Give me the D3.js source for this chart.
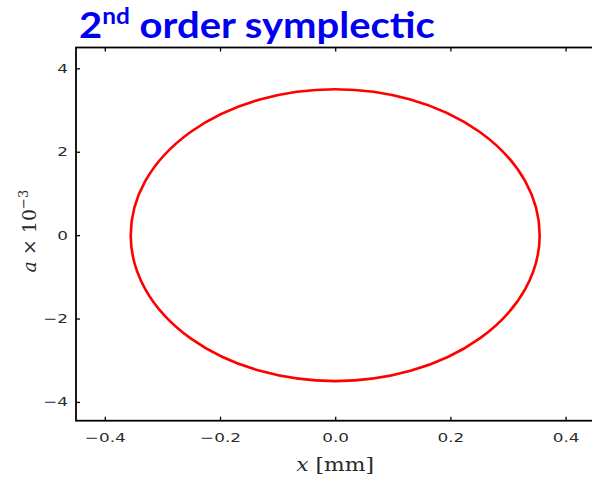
<!DOCTYPE html>
<html>
<head>
<meta charset="utf-8">
<script src="https://cdn.jsdelivr.net/npm/d3@7/dist/d3.min.js"></script>
<style>
  html, body { margin: 0; padding: 0; background: #fff; }
  svg { display: block; }
</style>
</head>
<body>
<svg id="chart" width="592" height="478"></svg>
<script>
// Phase-space orbit: centre and semi-axes (x in mm, a in units of 1e-3)
const orbitCentre = [0.0, 0.0];
const orbitSemiAxes = [0.355, 3.5];

const xDomain = [-0.45, 0.45];
const yDomain = [-4.45, 4.5];
const xTicks = [-0.4, -0.2, 0.0, 0.2, 0.4];
const yTicks = [-4, -2, 0, 2, 4];

const svg = d3.select("#chart");

const x = d3.scaleLinear().domain(xDomain).range([76, 594.4]);
const y = d3.scaleLinear().domain(yDomain).range([420.7, 47.5]);

const fmtX = d => d3.format(".1f")(d).replace("-", "\u2212");
const fmtY = d => d3.format("d")(d).replace("-", "\u2212");

// Tick labels are drawn slightly wide (horizontal stretch)
const stretch = 1.35;

// Axes frame
svg.append("rect")
  .attr("x", x(xDomain[0])).attr("y", y(yDomain[1]))
  .attr("width", x(xDomain[1]) - x(xDomain[0]))
  .attr("height", y(yDomain[0]) - y(yDomain[1]))
  .attr("fill", "none").attr("stroke", "#000").attr("stroke-width", 1.8);

const tickStyle = g => {
  g.select(".domain").remove();
  g.selectAll(".tick line").attr("stroke", "#000").attr("stroke-width", 1.3);
  g.selectAll(".tick text")
    .attr("fill", "#2a2a2a")
    .attr("font-family", "DejaVu Sans, sans-serif")
    .attr("font-size", 12.5);
};

// Bottom axis, ticks pointing inward
const gx = svg.append("g")
  .attr("transform", `translate(0,${y(yDomain[0])})`)
  .call(d3.axisBottom(x).tickValues(xTicks).tickFormat(fmtX).tickSizeInner(-4).tickSizeOuter(0).tickPadding(12))
  .call(tickStyle);
gx.selectAll(".tick text").each(function () {
  const t = d3.select(this);
  const yy = +t.attr("y");
  t.attr("y", null).attr("transform", `translate(0,${yy}) scale(${stretch},1)`);
});

// Top axis, ticks only
svg.append("g")
  .attr("transform", `translate(0,${y(yDomain[1])})`)
  .call(d3.axisTop(x).tickValues(xTicks).tickFormat("").tickSizeInner(-4).tickSizeOuter(0))
  .call(tickStyle);

// Left axis
const gy = svg.append("g")
  .attr("transform", `translate(${x(xDomain[0])},0)`)
  .call(d3.axisLeft(y).tickValues(yTicks).tickFormat(fmtY).tickSizeInner(-4).tickSizeOuter(0).tickPadding(8))
  .call(tickStyle);
gy.selectAll(".tick text").each(function () {
  const t = d3.select(this);
  const xx = +t.attr("x");
  t.attr("x", null).attr("transform", `translate(${xx},0) scale(${stretch},1)`);
});

// Orbit
svg.append("ellipse")
  .attr("cx", x(orbitCentre[0]))
  .attr("cy", y(orbitCentre[1]))
  .attr("rx", x(orbitCentre[0] + orbitSemiAxes[0]) - x(orbitCentre[0]))
  .attr("ry", y(orbitCentre[1]) - y(orbitCentre[1] + orbitSemiAxes[1]))
  .attr("fill", "none")
  .attr("stroke", "#ff0000")
  .attr("stroke-width", 2.6);

// Axis labels
const xl = svg.append("text")
  .attr("transform", `translate(${x(0)},471) scale(1.15,1)`)
  .attr("text-anchor", "middle")
  .attr("font-family", "DejaVu Serif, serif")
  .attr("font-size", 19)
  .attr("fill", "#2a2a2a");
xl.append("tspan").attr("font-style", "italic").text("x");
xl.append("tspan").text(" [mm]");

const yl = svg.append("text")
  .attr("transform", `translate(36,${y(0) - 4}) rotate(-90)`)
  .attr("text-anchor", "middle")
  .attr("font-family", "DejaVu Serif, serif")
  .attr("font-size", 19)
  .attr("fill", "#2a2a2a");
yl.append("tspan").attr("font-style", "italic").text("a");
yl.append("tspan").text(" \u00d7 10");
yl.append("tspan").attr("dy", -8).attr("font-size", 13).text("\u22123");

// Title
const title = svg.append("text")
  .attr("font-family", "Lato, 'Open Sans', sans-serif")
  .attr("font-weight", "bold")
  .attr("font-size", 36)
  .attr("fill", "#0000f0");
title.append("tspan").text("2");
title.append("tspan").attr("dy", -14).attr("font-size", 22).text("nd");
title.append("tspan").attr("dy", 14).text(" order symplectic");
const tw = title.node().getBBox().width;
title.attr("transform", `translate(79,38) scale(${356 / tw},1)`);
</script>
</body>
</html>
